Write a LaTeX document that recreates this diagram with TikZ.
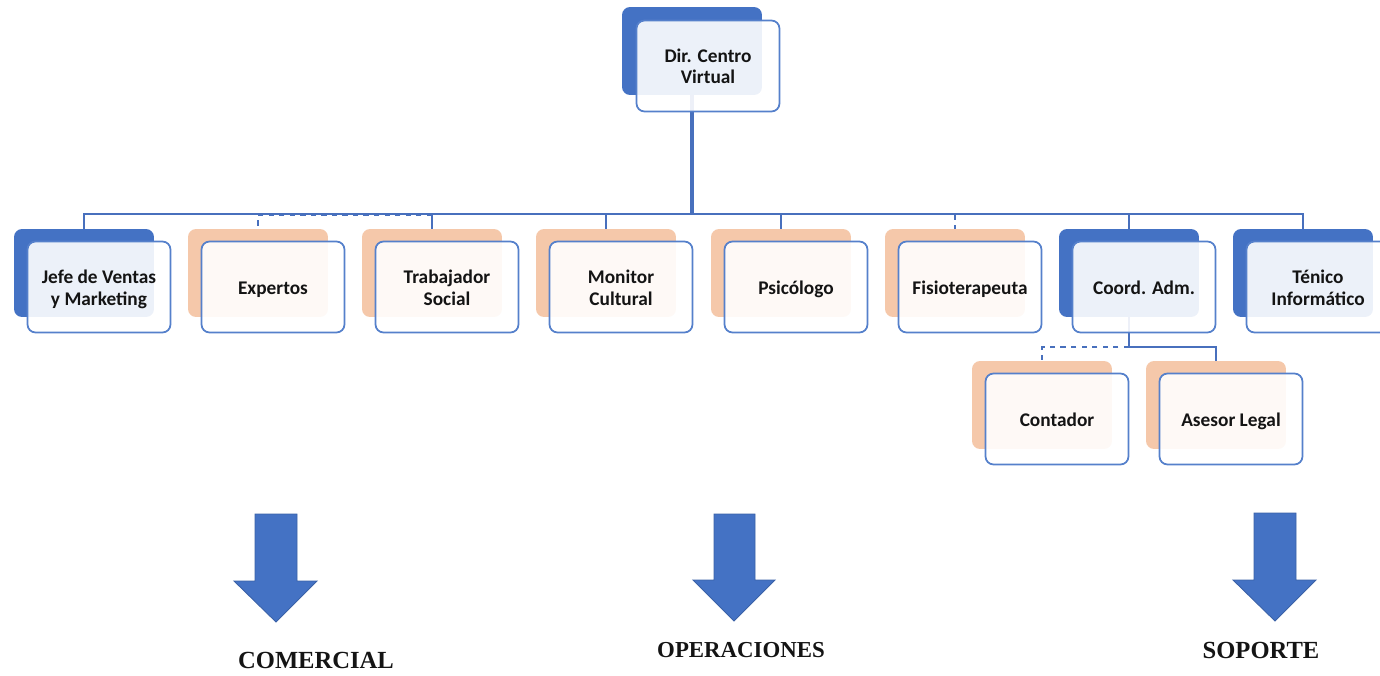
\documentclass[tikz,border=0pt]{standalone}
\usepackage{fontspec}
\setmainfont{Carlito}
\newfontfamily\titlefont{Liberation Serif}
\usetikzlibrary{backgrounds}
\definecolor{boxblue}{HTML}{4472C4}
\definecolor{boxpeach}{HTML}{F5C8AA}
\definecolor{edgeblue}{HTML}{5580CB}
\definecolor{lineblue}{HTML}{4870BD}
\definecolor{inktext}{HTML}{141414}
\newcommand{\lift}{\rule{0pt}{11.5pt}}

\begin{document}
\begin{tikzpicture}[x=0.02cm, y=-0.02cm,
    backbox/.style={rounded corners=0.16cm, minimum width=2.8cm, minimum height=1.76cm, inner sep=0pt},
    backblue/.style={backbox, fill=boxblue},
    backpeach/.style={backbox, fill=boxpeach},
    frontbox/.style={rounded corners=0.16cm, draw=edgeblue, line width=1pt, fill=white,
        fill opacity=0.9, text opacity=1, minimum width=2.86cm, minimum height=1.82cm,
        inner sep=0pt, align=center, text=inktext,
        font=\bfseries\fontsize{11}{12}\selectfont},
    rowbox/.style={frontbox, execute at begin node={\rule[-3pt]{0pt}{14.5pt}}},
    link/.style={draw=lineblue, line width=1.1pt},
    trunk/.style={draw=lineblue, line width=1.8pt},
    bigarrow/.style={fill=boxblue, draw=boxblue!85!black, line width=0.5pt},
    arealabel/.style={text=inktext, font=\titlefont\bfseries\fontsize{14}{16}\selectfont}]
    \useasboundingbox (0,0) rectangle (1380,676);

    % Top box
    \node[backblue] (dir) at (692,51) {};
    \node[frontbox] (dirF) at ([shift={(16,15)}]dir) {Dir. Centro\\Virtual};

    % Second row
    \node[backblue] (jefe) at (84,273) {};
    \node[rowbox] (jefeF) at ([shift={(15,14)}]jefe) {\lift Jefe de Ventas\\y Marketing};
    \node[backpeach] (exp) at (258,273) {};
    \node[rowbox] (expF) at ([shift={(15,14)}]exp) {Expertos};
    \node[backpeach] (trab) at (432,273) {};
    \node[rowbox] (trabF) at ([shift={(15,14)}]trab) {\lift Trabajador\\Social};
    \node[backpeach] (mon) at (606,273) {};
    \node[rowbox] (monF) at ([shift={(15,14)}]mon) {\lift Monitor\\Cultural};
    \node[backpeach] (psi) at (781,273) {};
    \node[rowbox] (psiF) at ([shift={(15,14)}]psi) {Psicólogo};
    \node[backpeach] (fis) at (955,273) {};
    \node[rowbox] (fisF) at ([shift={(15,14)}]fis) {Fisioterapeuta};
    \node[backblue] (coord) at (1129,273) {};
    \node[rowbox] (coordF) at ([shift={(15,14)}]coord) {Coord. Adm.};
    \node[backblue] (tec) at (1303,273) {};
    \node[rowbox] (tecF) at ([shift={(15,14)}]tec) {\lift Ténico\\Informático};

    % Third row
    \node[backpeach] (cont) at (1042,405) {};
    \node[rowbox] (contF) at ([shift={(15,14)}]cont) {Contador};
    \node[backpeach] (ases) at (1216,405) {};
    \node[rowbox] (asesF) at ([shift={(15,14)}]ases) {Asesor Legal};

    % Connectors behind the boxes
    \coordinate (bus) at (692,214);
    \coordinate (cbus) at (1129,347);
    \begin{pgfonlayer}{background}
        \draw[trunk] (dir.south) -- (bus);
        \draw[link] (bus) -| (jefe.north);
        \draw[link, dashed, transform canvas={yshift=-0.7pt}] (trab.north |- bus) -| (exp.north);
        \draw[link] (bus) -| (trab.north);
        \draw[link] (bus) -| (mon.north);
        \draw[link] (bus) -| (psi.north);
        \draw[link, dashed] (bus) -| (fis.north);
        \draw[link] (bus) -| (coord.north);
        \draw[link] (bus) -| (tec.north);
        \draw[link] (coord.south) -- (cbus);
        \draw[link, dashed] (cbus) -| (cont.north);
        \draw[link] (cbus) -| (ases.north);
    \end{pgfonlayer}

    % Block arrows and area names
    \draw[bigarrow] (255,514) -- (297,514) -- (297,581) -- (317,581) -- (276,622) -- (234,581) -- (255,581) -- cycle;
    \draw[bigarrow] (714,514) -- (755,514) -- (755,580) -- (775,580) -- (734,621) -- (693,580) -- (714,580) -- cycle;
    \draw[bigarrow] (1254,513) -- (1296,513) -- (1296,580) -- (1316,580) -- (1275,621) -- (1233,580) -- (1254,580) -- cycle;
    \node[arealabel] (comercial) at (316,660) {COMERCIAL};
    \node[arealabel, font=\titlefont\bfseries\fontsize{13}{16}\selectfont] (operaciones) at (741,650) {OPERACIONES};
    \node[arealabel] (soporte) at (1261,650) {SOPORTE};
\end{tikzpicture}
\end{document}
